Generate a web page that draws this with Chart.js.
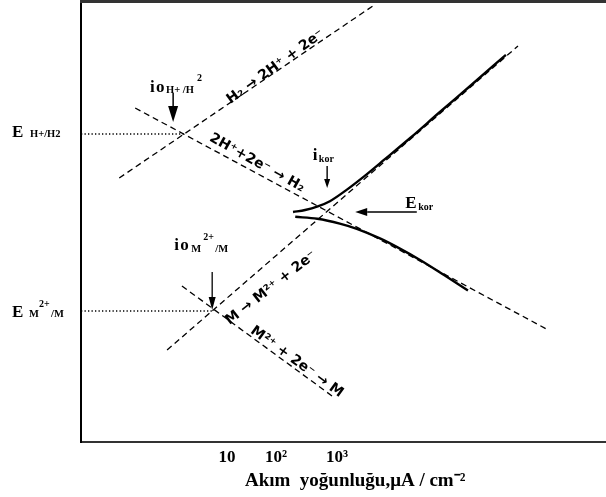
<!DOCTYPE html>
<html><head><meta charset="utf-8">
<script src="https://cdn.jsdelivr.net/npm/chart.js@4.4.1/dist/chart.umd.min.js"></script>
<style>html,body{margin:0;padding:0;background:#fff;}canvas{display:block;}</style>
</head><body>
<canvas id="c" width="606" height="497"></canvas>
<script>
// x: log10(current density), arbitrary decade units; y: potential E (V, relative to E H+/H2)
const hOxLogI = [-0.96, 3.65];   const hOxE = [-0.11, 0.32];     // H2 -> 2H+ + 2e-
const hRedLogI = [-0.67, 6.84];  const hRedE = [0.065, -0.49];   // 2H+ + 2e- -> H2
const mOxLogI = [-0.09, 6.29];   const mOxE = [-0.54, 0.22];     // M -> M2+ + 2e-
const mRedLogI = [0.18, 2.96];   const mRedE = [-0.38, -0.66];   // M2+ + 2e- -> M
const eqHLogI = [-1.655, 0.24];  const eqHE = [0, 0];
const eqMLogI = [-1.655, 0.73];  const eqME = [-0.4425, -0.4425];
const anodicLogI = [2.20, 2.42, 2.65, 2.87, 3.18, 3.51, 3.87, 4.33, 4.87, 5.42, 6.07];
const anodicE = [-0.195, -0.190, -0.181, -0.168, -0.139, -0.104, -0.063, -0.010, 0.055, 0.120, 0.198];
const cathodicLogI = [2.24, 2.64, 3.05, 3.36, 3.78, 4.11, 4.51, 4.96, 5.38];
const cathodicE = [-0.207, -0.212, -0.224, -0.237, -0.261, -0.284, -0.315, -0.354, -0.391];
const tickValues = [1, 1.89, 3];
const tickLabels = ['10', '10²', '10³'];
const xTitle = 'Akım  yoğunluğu,μA / cm⁻²';

const SERIF = '"Liberation Serif", "Times New Roman", serif';
const HAND = '"DejaVu Sans", sans-serif';

const pts = (xs, ys) => xs.map((v, i) => ({x: v, y: ys[i]}));
function ds(xs, ys, style) {
  return Object.assign({type: 'line', data: pts(xs, ys), showLine: true, pointRadius: 0,
    borderColor: '#000', fill: false}, style);
}
const dashed = {borderWidth: 1.3, borderDash: [6, 4]};
const dotted = {borderWidth: 1.3, borderDash: [1.3, 2.2]};
const solid = {borderWidth: 2.4, cubicInterpolationMode: 'monotone'};

// annotation positions in data coordinates
const lineLabels = [
  {t: 'H₂ → 2H⁺ + 2e⁻', x: 1.88, y: 0.168, a: -36},
  {t: '2H⁺+2e⁻ → H₂', x: 1.545, y: -0.0725, a: 29},
  {t: 'M → M²⁺ + 2e⁻', x: 1.80, y: -0.385, a: -38},
  {t: 'M²⁺ + 2e⁻ → M', x: 2.27, y: -0.57, a: 36}
];
const arrows = [
  {x0: 0.02, y0: 0.1025, x1: 0.02, y1: 0.03, hl: 16, hw: 10, w: 1.5},
  {x0: 2.82, y0: -0.08, x1: 2.82, y1: -0.135, hl: 9, hw: 6, w: 1.4},
  {x0: 4.45, y0: -0.195, x1: 3.33, y1: -0.195, hl: 12, hw: 8, w: 1.6},
  {x0: 0.73, y0: -0.345, x1: 0.73, y1: -0.44, hl: 13, hw: 7, w: 1.3}
];

function rich(ctx, x, y, parts) {
  ctx.textAlign = 'left'; ctx.textBaseline = 'alphabetic';
  for (const p of parts) {
    ctx.font = 'bold ' + p.s + 'px ' + SERIF;
    ctx.fillText(p.t, x + p.dx, y + (p.dy || 0));
  }
}

const evans = {
  id: 'evans',
  afterDraw(chart) {
    const {ctx, chartArea: a, scales: {x, y}} = chart;
    const X = v => x.getPixelForValue(v), Y = v => y.getPixelForValue(v);
    ctx.save();
    ctx.fillStyle = '#000';
    // top frame line
    ctx.strokeStyle = '#333'; ctx.lineWidth = 3;
    ctx.beginPath(); ctx.moveTo(a.left - 1, a.top + 0.5); ctx.lineTo(a.right, a.top + 0.5); ctx.stroke();
    ctx.strokeStyle = '#000';
    // arrows
    for (const r of arrows) {
      const x0 = X(r.x0), y0 = Y(r.y0), x1 = X(r.x1), y1 = Y(r.y1);
      const ang = Math.atan2(y1 - y0, x1 - x0);
      const bx = x1 - r.hl * Math.cos(ang), by = y1 - r.hl * Math.sin(ang);
      ctx.lineWidth = r.w;
      ctx.beginPath(); ctx.moveTo(x0, y0); ctx.lineTo(bx, by); ctx.stroke();
      ctx.beginPath();
      ctx.moveTo(x1, y1);
      ctx.lineTo(bx + r.hw / 2 * Math.sin(ang), by - r.hw / 2 * Math.cos(ang));
      ctx.lineTo(bx - r.hw / 2 * Math.sin(ang), by + r.hw / 2 * Math.cos(ang));
      ctx.closePath(); ctx.fill();
    }
    // rotated reaction labels
    ctx.font = 'bold 14px ' + HAND;
    ctx.textAlign = 'center'; ctx.textBaseline = 'middle';
    for (const l of lineLabels) {
      ctx.save();
      ctx.translate(X(l.x), Y(l.y));
      ctx.rotate(l.a * Math.PI / 180);
      ctx.fillText(l.t, 0, 0);
      ctx.restore();
    }
    // exchange current density labels
    rich(ctx, X(-0.40), Y(0.105), [
      {t: 'i', s: 17, dx: 0}, {t: 'o', s: 17, dx: 6},
      {t: 'H+ /H', s: 10.5, dx: 16, dy: 1}, {t: '2', s: 10, dx: 47, dy: -11}]);
    rich(ctx, X(0.04), Y(-0.29), [
      {t: 'i', s: 17, dx: 0}, {t: 'o', s: 17, dx: 6},
      {t: 'M', s: 10.5, dx: 17, dy: 2}, {t: '2+', s: 10, dx: 29, dy: -10}, {t: '/M', s: 10.5, dx: 41, dy: 2}]);
    // corrosion labels
    rich(ctx, X(2.56), Y(-0.065), [{t: 'i', s: 17, dx: 0}, {t: 'kor', s: 10, dx: 6, dy: 2}]);
    rich(ctx, X(4.24), Y(-0.185), [{t: 'E', s: 17, dx: 0}, {t: 'kor', s: 10, dx: 13, dy: 2}]);
    // equilibrium potential labels on the left
    rich(ctx, 12, Y(0) + 3, [{t: 'E', s: 17, dx: 0}, {t: 'H+/H2', s: 10.5, dx: 18}]);
    rich(ctx, 12, Y(-0.4425) + 6, [
      {t: 'E', s: 17, dx: 0}, {t: 'M', s: 10.5, dx: 17}, {t: '2+', s: 10, dx: 27, dy: -10}, {t: '/M', s: 10.5, dx: 39}]);
    // axis title
    ctx.font = 'bold 19px ' + SERIF;
    ctx.textAlign = 'center'; ctx.textBaseline = 'alphabetic';
    ctx.fillText(xTitle, X(3.33), 486);
    ctx.restore();
  }
};

new Chart(document.getElementById('c'), {
  type: 'scatter',
  data: {datasets: [
    ds(hOxLogI, hOxE, dashed),
    ds(hRedLogI, hRedE, dashed),
    ds(mOxLogI, mOxE, dashed),
    ds(mRedLogI, mRedE, dashed),
    ds(eqHLogI, eqHE, dotted),
    ds(eqMLogI, eqME, dotted),
    ds(anodicLogI, anodicE, solid),
    ds(cathodicLogI, cathodicE, solid)
  ]},
  options: {
    responsive: false, animation: false, devicePixelRatio: 1,
    layout: {padding: {left: 81, top: 1, right: 0, bottom: 0}},
    plugins: {legend: {display: false}, tooltip: {enabled: false}},
    scales: {
      x: {type: 'linear', min: -1.655, max: 7.89,
        grid: {display: false, drawTicks: false},
        border: {display: true, color: '#333', width: 2},
        afterBuildTicks: s => { s.ticks = tickValues.map(v => ({value: v})); },
        ticks: {font: {family: SERIF, size: 17, weight: 'bold'}, color: '#000', padding: 5,
          maxRotation: 0, autoSkip: false, callback: (v, i) => tickLabels[i]},
        afterFit: s => { s.height = 55; }},
      y: {type: 'linear', min: -0.77, max: 0.3325,
        grid: {display: false, drawTicks: false},
        border: {display: true, color: '#000', width: 2},
        ticks: {display: false},
        afterFit: s => { s.width = 0; }}
    }
  },
  plugins: [evans]
});
</script>
</body></html>
